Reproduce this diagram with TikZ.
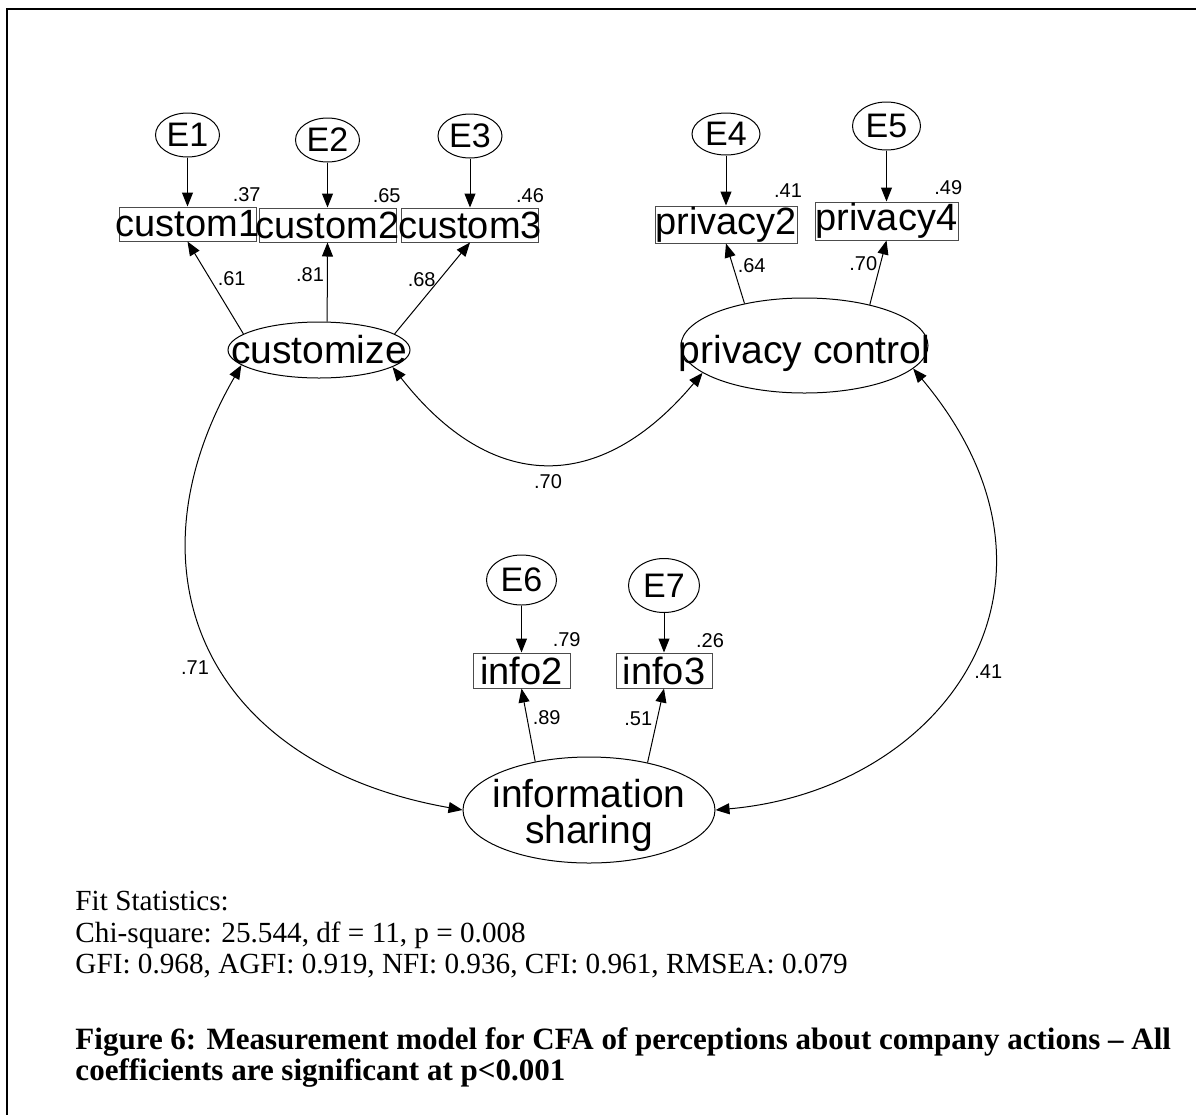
\documentclass[tikz,border=0pt]{standalone}
\usepackage{fontspec}
\setmainfont{Liberation Serif}
\newfontfamily\amosfont{Liberation Sans}
\usetikzlibrary{positioning,shapes.geometric,arrows.meta}

\begin{document}
\begin{tikzpicture}[
  x=0.5pt, y=0.5pt,
  >={Triangle[length=7pt,width=5.5pt]},
  line width=0.5pt,
  obs/.style={draw=black!70, rectangle, inner sep=0pt, minimum width=68.5pt, minimum height=17pt, font=\amosfont\fontsize{19}{19}\selectfont},
  err/.style={draw, ellipse, inner sep=0pt, minimum width=32pt, minimum height=22pt, font=\amosfont\fontsize{17}{17}\selectfont},
  latent/.style={draw, ellipse, inner sep=0pt},
  lattext/.style={font=\amosfont\fontsize{19.5}{18}\selectfont, align=center, inner sep=0pt},
  coef/.style={font=\amosfont\fontsize{10}{10}\selectfont, inner sep=0pt},
  note/.style={font=\fontsize{14.6}{15.75}\selectfont, align=left, inner sep=0pt, anchor=north west}
]
\useasboundingbox (0,0) rectangle (1196,-1115);

% frame
\draw[line width=1pt] (6.5,-1115) -- (6.5,-8.5) -- (1196,-8.5);

% latent factors
\node[latent, minimum width=91pt, minimum height=28pt, label={[lattext]center:customize}] (cust) at (319,-350) {};
\node[latent, minimum width=123.5pt, minimum height=47.5pt, label={[lattext, yshift=-4pt]center:privacy control}] (priv) at (804.5,-345.5) {};
\node[latent, minimum width=126pt, minimum height=53pt, label={[lattext, yshift=-2.5pt]center:information\\sharing}] (info) at (589,-810) {};

% indicators
\node[obs] (c1) at (187.5,-224) {\makebox[0pt]{custom1}};
\node[obs] (c2) at (327.5,-225) {\makebox[0pt]{custom2}};
\node[obs] (c3) at (470,-225)   {\makebox[0pt]{custom3}};
\node[obs, minimum width=71pt, minimum height=18.5pt] (p2) at (726,-224.5) {\makebox[0pt]{privacy2}};
\node[obs, minimum width=71.5pt, minimum height=19pt] (p4) at (886.5,-221) {\makebox[0pt]{privacy4}};
\node[obs, minimum width=48.5pt, minimum height=17.5pt] (i2) at (521.5,-670.5) {info2};
\node[obs, minimum width=48pt, minimum height=17.5pt] (i3) at (664,-670.5) {info3};

% error terms
\node[err] (e1) at (187.5,-135) {E1};
\node[err] (e2) at (327.5,-140) {E2};
\node[err] (e3) at (470,-136)   {E3};
\node[err, minimum width=34pt, minimum height=21pt] (e4) at (726,-134) {E4};
\node[err, minimum width=34pt, minimum height=24pt] (e5) at (886.5,-126) {E5};
\node[err, minimum width=35pt, minimum height=25pt] (e6) at (521.5,-580) {E6};
\node[err, minimum width=35.5pt, minimum height=27pt] (e7) at (664,-585.5) {E7};

\foreach \e/\o in {e1/c1,e2/c2,e3/c3,e4/p2,e5/p4,e6/i2,e7/i3}
  \draw[->] (\e) -- (\o);

% loadings
\draw[->] (cust.168) -- (c1.south);
\draw[->] (cust.74)  -- (c2.south);
\draw[->] (cust.12)  -- (c3.south);
\draw[->] (priv.145) -- (p2.south);
\draw[->] (priv.32)  -- (p4.south);
\draw[->] (info.138) -- (i2.south);
\draw[->] (info.39)  -- (i3.south);

% covariances
\draw[<->] (cust.-13) to[out=-52, in=-130, out distance=80pt, in distance=80pt] (priv.195);
\draw[<->] (cust.191) to[out=-120, in=170, out distance=120pt, in distance=130pt] (info.west);
\draw[<->] (priv.-12) to[out=-50, in=5, out distance=140pt, in distance=115pt] (info.east);

% squared multiple correlations
\node[coef] (r1) at (246.7,-195)   {.37};
\node[coef] (r2) at (386.7,-195.7) {.65};
\node[coef] (r3) at (530,-195.7)   {.46};
\node[coef] (r4) at (788,-191)     {.41};
\node[coef] (r5) at (948.3,-188)   {.49};
\node[coef] (r6) at (566.7,-640)   {.79};
\node[coef] (r7) at (710,-640.7)   {.26};

% standardized loadings and correlations
\node[coef] (l1) at (231.7,-278.3) {.61};
\node[coef] (l2) at (310,-275)     {.81};
\node[coef] (l3) at (421.7,-280)   {.68};
\node[coef] (l4) at (751.7,-265.7) {.64};
\node[coef] (l5) at (863.3,-264)   {.70};
\node[coef] (l6) at (546.7,-717.3) {.89};
\node[coef] (l7) at (638.3,-718.3) {.51};
\node[coef] (k1) at (548,-482)     {.70};
\node[coef] (k2) at (195,-668)     {.71};
\node[coef] (k3) at (988.3,-671.7) {.41};

% fit statistics and caption
\node[note] (fit) at (75,-891) {Fit Statistics:\\Chi-square: 25.544, df = 11, p = 0.008\\GFI: 0.968, AGFI: 0.919, NFI: 0.936, CFI: 0.961, RMSEA: 0.079};
\node[note, font=\bfseries\fontsize{15.5}{15.75}\selectfont] (cap) at (75,-1027) {Figure 6: Measurement model for CFA of perceptions about company actions -- All\\coefficients are significant at p<0.001};
\end{tikzpicture}
\end{document}
